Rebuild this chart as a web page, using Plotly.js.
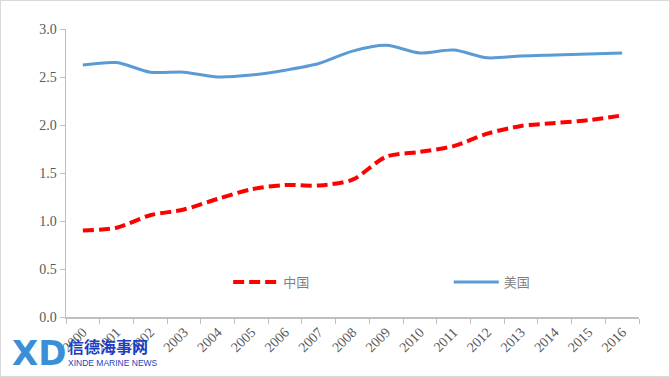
<!DOCTYPE html>
<html>
<head>
<meta charset="utf-8">
<script src="https://cdn.plot.ly/plotly-3.0.1.min.js"></script>
<style>
html,body{margin:0;padding:0;background:#fff;}
#wrap{position:relative;width:670px;height:377px;}
#chart{width:670px;height:377px;}
#frame{position:absolute;left:0;top:0;width:670px;height:377px;box-sizing:border-box;border:1px solid #d9d9d9;pointer-events:none;}
</style>
</head>
<body>
<div id="wrap"><div id="chart"></div><div id="frame"></div></div>
<script>
var years = ['2000','2001','2002','2003','2004','2005','2006','2007','2008','2009','2010','2011','2012','2013','2014','2015','2016'];
var china = [0.90,0.93,1.06,1.12,1.23,1.33,1.375,1.37,1.43,1.67,1.72,1.78,1.91,1.99,2.02,2.05,2.10];
var usa   = [2.625,2.65,2.55,2.55,2.50,2.52,2.57,2.64,2.77,2.83,2.75,2.78,2.70,2.72,2.73,2.74,2.75];
var seriesNames = ['中国','美国'];

var traces = [
  {x: years, y: china, name: seriesNames[0], type: 'scatter', mode: 'lines',
   line: {color: '#ff0000', width: 4, dash: '11px,5px', shape: 'spline', smoothing: 0.8},
   legend: 'legend'},
  {x: years, y: usa, name: seriesNames[1], type: 'scatter', mode: 'lines',
   line: {color: '#5b9bd5', width: 3, shape: 'spline', smoothing: 0.8},
   legend: 'legend2'}
];

var tickFont = {family: 'Liberation Serif, Times New Roman, serif', size: 14, color: '#595959'};
var legFont = {family: 'Noto Sans CJK SC, sans-serif', size: 13, color: '#7f7f7f'};

var layout = {
  width: 670, height: 377,
  margin: {l: 66, r: 31, t: 29, b: 60},
  paper_bgcolor: '#ffffff', plot_bgcolor: '#ffffff',
  showlegend: true,
  xaxis: {
    type: 'category', range: [-0.5, 16.5], tickson: 'boundaries', ticks: 'outside', ticklen: 5,
    tickcolor: '#bfbfbf', showline: true, linecolor: '#bfbfbf', linewidth: 1.5,
    showgrid: false, tickangle: -45, tickfont: tickFont, zeroline: false
  },
  yaxis: {
    range: [0, 3], dtick: 0.5, tickformat: '.1f', ticks: 'outside', ticklen: 5,
    tickcolor: '#bfbfbf', showline: true, linecolor: '#bfbfbf', linewidth: 1.5,
    showgrid: false, zeroline: false, tickfont: tickFont
  },
  legend: {x: 0.283, y: 0.1215, xanchor: 'left', yanchor: 'middle', orientation: 'h',
           bgcolor: 'rgba(0,0,0,0)', font: legFont, itemwidth: 45},
  legend2: {x: 0.668, y: 0.1215, xanchor: 'left', yanchor: 'middle', orientation: 'h',
            bgcolor: 'rgba(0,0,0,0)', font: legFont, itemwidth: 45},
  annotations: [
    {xref: 'paper', yref: 'paper', x: (10-66)/573, y: -(353-317)/288, xanchor: 'left', yanchor: 'middle',
     text: '<b>XD</b>', showarrow: false,
     font: {family: 'DejaVu Sans, sans-serif', size: 34, color: '#3a8fd8'}},
    {xref: 'paper', yref: 'paper', x: (66-66)/573, y: -(346-317)/288, xanchor: 'left', yanchor: 'middle',
     text: '<b>信德海事网</b>', showarrow: false,
     font: {family: 'Noto Sans CJK SC, sans-serif', size: 16, color: '#1e3fbf'}},
    {xref: 'paper', yref: 'paper', x: (66-66)/573, y: -(363-317)/288, xanchor: 'left', yanchor: 'middle',
     text: 'XINDE MARINE NEWS', showarrow: false,
     font: {family: 'Liberation Sans, Arial, sans-serif', size: 8.5, color: '#1e3fbf'}}
  ]
};

Plotly.newPlot('chart', traces, layout, {displayModeBar: false, staticPlot: true});
</script>
</body>
</html>
